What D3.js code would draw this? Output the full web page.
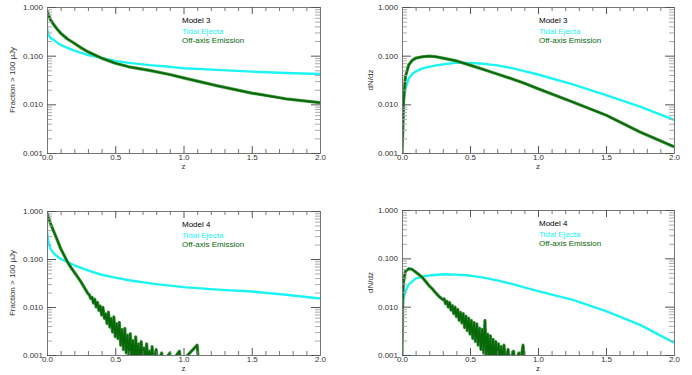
<!DOCTYPE html>
<html>
<head>
<meta charset="utf-8">
<script src="https://cdn.jsdelivr.net/npm/d3@7"></script>
<style>
  body { margin: 0; background: #fff; }
  text { font-family: "Liberation Sans", Arial, sans-serif; }
</style>
</head>
<body>
<div class="chart"></div>
<script>
// panel A: Model 3, fraction above 100 uJy
var zA = [0, 0.01, 0.025, 0.05, 0.075, 0.1, 0.15, 0.2, 0.25, 0.3, 0.4, 0.5, 0.6, 0.75, 0.9, 1.0, 1.25, 1.5, 1.75, 2.0];
var tidalA = [0.37, 0.27, 0.23, 0.21, 0.185, 0.166, 0.145, 0.127, 0.114, 0.103, 0.09, 0.078, 0.071, 0.064, 0.059, 0.055, 0.051, 0.047, 0.044, 0.042];
var offA = [0.85, 0.7, 0.55, 0.43, 0.35, 0.29, 0.22, 0.18, 0.145, 0.12, 0.089, 0.07, 0.059, 0.05, 0.041, 0.035, 0.024, 0.017, 0.013, 0.0108];

// panel B: Model 3, dN/dz
var zB = [0, 0.005, 0.012, 0.025, 0.05, 0.075, 0.1, 0.15, 0.2, 0.25, 0.3, 0.4, 0.5, 0.6, 0.7, 0.8, 0.9, 1.0, 1.25, 1.5, 1.75, 2.0];
var tidalB = [0.001, 0.0035, 0.012, 0.021, 0.034, 0.042, 0.047, 0.055, 0.059, 0.063, 0.066, 0.072, 0.071, 0.068, 0.063, 0.056, 0.048, 0.041, 0.026, 0.0155, 0.009, 0.0048];
var offB = [0.001, 0.0025, 0.012, 0.037, 0.065, 0.080, 0.089, 0.095, 0.098, 0.095, 0.089, 0.078, 0.064, 0.052, 0.042, 0.034, 0.027, 0.021, 0.0113, 0.006, 0.0027, 0.00135];

// panel C: Model 4, fraction above 100 uJy
var zTidalC = [0, 0.01, 0.025, 0.05, 0.1, 0.15, 0.2, 0.3, 0.4, 0.5, 0.6, 0.8, 1.0, 1.25, 1.5, 1.75, 2.0];
var tidalC = [0.37, 0.23, 0.165, 0.13, 0.10, 0.087, 0.074, 0.058, 0.047, 0.041, 0.036, 0.030, 0.026, 0.023, 0.021, 0.018, 0.015];
var zOffC = [0, 0.01, 0.025, 0.05, 0.075, 0.1, 0.125, 0.15, 0.175, 0.2, 0.225, 0.25, 0.275, 0.3,
  0.31, 0.32, 0.33, 0.34, 0.35, 0.36, 0.37, 0.38, 0.39, 0.40, 0.41, 0.42, 0.43, 0.44, 0.45, 0.46, 0.47, 0.48, 0.49, 0.50,
  0.51, 0.52, 0.53, 0.54, 0.55, 0.56, 0.57, 0.58, 0.59, 0.60, 0.61, 0.62, 0.63, 0.64, 0.65, 0.66, 0.67, 0.68, 0.69, 0.70,
  0.71, 0.72, 0.73, 0.74, 0.75, 0.76, 0.77, 0.78, 0.80, 0.81, 0.84, 0.85, 0.90, 0.91, 0.97, 0.98, 1.10, 1.11];
var offC = [0.92, 0.75, 0.55, 0.37, 0.25, 0.165, 0.12, 0.087, 0.067, 0.053, 0.042, 0.033, 0.025, 0.019,
  0.018, 0.015, 0.016, 0.012, 0.0145, 0.010, 0.0125, 0.0085, 0.0105, 0.0068, 0.0098, 0.0058, 0.0072, 0.0045, 0.0078, 0.0038, 0.0058, 0.003, 0.0062, 0.0024,
  0.0045, 0.0022, 0.0048, 0.0016, 0.0034, 0.0013, 0.0036, 0.0011, 0.0026, 0.0009, 0.0028, 0.0008, 0.002, 0.0007, 0.0024, 0.0006, 0.0017, 0.0006, 0.0019, 0.0005,
  0.0014, 0.0005, 0.0017, 0.0005, 0.0012, 0.0005, 0.0015, 0.0005, 0.0013, 0.0005, 0.0011, 0.0005, 0.0011, 0.0005, 0.0012, 0.0005, 0.0016, 0.0005];

// panel D: Model 4, dN/dz
var zTidalD = [0, 0.005, 0.01, 0.025, 0.05, 0.1, 0.15, 0.2, 0.3, 0.4, 0.5, 0.6, 0.7, 0.8, 0.9, 1.0, 1.25, 1.5, 1.75, 2.0];
var tidalD = [0.001, 0.009, 0.014, 0.021, 0.029, 0.038, 0.042, 0.044, 0.047, 0.046, 0.044, 0.040, 0.035, 0.030, 0.025, 0.021, 0.014, 0.0081, 0.0042, 0.0018];
var zOffD = [0, 0.005, 0.01, 0.025, 0.05, 0.075, 0.1, 0.125, 0.15, 0.175, 0.2, 0.225, 0.25, 0.275, 0.3,
  0.31, 0.32, 0.33, 0.34, 0.35, 0.36, 0.37, 0.38, 0.39, 0.40, 0.41, 0.42, 0.43, 0.44, 0.45, 0.46, 0.47, 0.48, 0.49, 0.50,
  0.51, 0.52, 0.53, 0.54, 0.55, 0.56, 0.57, 0.58, 0.59, 0.60, 0.61, 0.62, 0.63, 0.64, 0.65, 0.66, 0.67, 0.68, 0.69, 0.70,
  0.71, 0.72, 0.73, 0.74, 0.75, 0.76, 0.78, 0.79, 0.82, 0.83, 0.86, 0.87, 0.89, 0.90];
var offD = [0.001, 0.014, 0.031, 0.054, 0.061, 0.059, 0.052, 0.046, 0.040, 0.033, 0.027, 0.023, 0.019, 0.016, 0.014,
  0.0145, 0.0115, 0.013, 0.0098, 0.0122, 0.0085, 0.0105, 0.0072, 0.0098, 0.0062, 0.0088, 0.0052, 0.0076, 0.0046, 0.0072, 0.0037, 0.0064, 0.0032, 0.0058, 0.0027,
  0.0052, 0.0022, 0.0047, 0.0019, 0.0044, 0.0016, 0.0036, 0.0013, 0.0034, 0.0011, 0.0052, 0.0009, 0.0027, 0.0008, 0.0025, 0.0007, 0.0021, 0.0006, 0.0019, 0.0006,
  0.0017, 0.0005, 0.0015, 0.0005, 0.0016, 0.0005, 0.0013, 0.0005, 0.0012, 0.0005, 0.0011, 0.0005, 0.0016, 0.0005];

var legendNames = ["Tidal Ejecta", "Off-axis Emission"];
var xMajor = [0, 0.5, 1.0, 1.5, 2.0];
var xMinor = [0.1, 0.2, 0.3, 0.4, 0.6, 0.7, 0.8, 0.9, 1.1, 1.2, 1.3, 1.4, 1.6, 1.7, 1.8, 1.9];
var yMajor = [0.001, 0.01, 0.1, 1];

var width = 692, height = 375;
var cyan = "#1cf4f4", green = "#076807", greenLight = "#4f9c4f";

var svg = d3.select(".chart").append("svg")
  .attr("width", width)
  .attr("height", height);

var yMinor = [];
[0.001, 0.01, 0.1].forEach(function(d) {
  for (var k = 2; k <= 9; k++) yMinor.push(d * k);
});

var panels = [
  {id: "a", left: 47, right: 320, top: 7, bottom: 153, model: "Model 3", ytitle: "Fraction > 100 \u03bcJy", tx: 12, lx: 182,
   series: [{z: zA, v: tidalA, c: cyan}, {z: zA, v: offA, c: green}]},
  {id: "b", left: 402, right: 674, top: 7, bottom: 153, model: "Model 3", ytitle: "dN/dz", tx: 370, lx: 539,
   series: [{z: zB, v: tidalB, c: cyan}, {z: zB, v: offB, c: green}]},
  {id: "c", left: 47, right: 320, top: 211, bottom: 355, model: "Model 4", ytitle: "Fraction > 100 \u03bcJy", tx: 12, lx: 182,
   series: [{z: zTidalC, v: tidalC, c: cyan}, {z: zOffC, v: offC, c: green}]},
  {id: "d", left: 402, right: 674, top: 210, bottom: 355, model: "Model 4", ytitle: "dN/dz", tx: 370, lx: 539,
   series: [{z: zTidalD, v: tidalD, c: cyan}, {z: zOffD, v: offD, c: green}]}
];

panels.forEach(drawPanel);

function drawPanel(p) {
  var x = d3.scaleLinear().domain([0, 2]).range([p.left, p.right]);
  var y = d3.scaleLog().domain([0.001, 1]).range([p.bottom, p.top]);
  var g = svg.append("g");

  svg.append("clipPath").attr("id", "clip-" + p.id)
    .append("rect")
      .attr("x", p.left).attr("y", p.top)
      .attr("width", p.right - p.left).attr("height", p.bottom - p.top);

  // curves
  var line = d3.line()
    .x(function(d) { return x(d[0]); })
    .y(function(d) { return y(Math.max(d[1], 0.0007)); });

  p.series.forEach(function(s) {
    var pts = s.z.map(function(z, i) { return [z, s.v[i]]; });
    if (s.c == green) {
      // lighter halo for the noisy green band
      g.append("path")
        .datum(pts)
        .attr("clip-path", "url(#clip-" + p.id + ")")
        .attr("fill", "none")
        .attr("stroke", greenLight)
        .attr("stroke-width", 3.2)
        .attr("stroke-linejoin", "round")
        .attr("d", line);
    }
    g.append("path")
      .datum(pts)
      .attr("clip-path", "url(#clip-" + p.id + ")")
      .attr("fill", "none")
      .attr("stroke", s.c)
      .attr("stroke-width", s.c == green ? 1.8 : 2.4)
      .attr("stroke-linejoin", "round")
      .attr("d", line);
  });

  // axes (ticks point inwards, box on all sides)
  function styleAxis(sel, col) {
    sel.select(".domain").attr("stroke", "#777");
    sel.selectAll(".tick line").attr("stroke", col);
    sel.selectAll("text")
      .attr("font-size", 8)
      .attr("fill", "#333")
      .style("font-family", "'Liberation Sans', Arial, sans-serif");
  }

  g.append("g").attr("transform", "translate(0," + p.bottom + ")")
    .call(d3.axisBottom(x).tickValues(xMinor).tickSize(-4).tickFormat("").tickSizeOuter(0))
    .call(styleAxis, "#777");
  g.append("g").attr("transform", "translate(0," + p.bottom + ")")
    .call(d3.axisBottom(x).tickValues(xMajor).tickSize(-7).tickPadding(1).tickFormat(d3.format(".1f")).tickSizeOuter(0))
    .call(styleAxis, "#555");
  g.append("g").attr("transform", "translate(0," + p.top + ")")
    .call(d3.axisTop(x).tickValues(xMinor).tickSize(-4).tickFormat("").tickSizeOuter(0))
    .call(styleAxis, "#777");
  g.append("g").attr("transform", "translate(0," + p.top + ")")
    .call(d3.axisTop(x).tickValues(xMajor).tickSize(-7).tickFormat("").tickSizeOuter(0))
    .call(styleAxis, "#555");

  g.append("g").attr("transform", "translate(" + p.left + ",0)")
    .call(d3.axisLeft(y).tickValues(yMinor).tickSize(-5).tickFormat("").tickSizeOuter(0))
    .call(styleAxis, "#aaa");
  g.append("g").attr("transform", "translate(" + p.left + ",0)")
    .call(d3.axisLeft(y).tickValues(yMajor).tickSize(-9).tickPadding(4).tickFormat(d3.format(".3f")).tickSizeOuter(0))
    .call(styleAxis, "#555");
  g.append("g").attr("transform", "translate(" + p.right + ",0)")
    .call(d3.axisRight(y).tickValues(yMinor).tickSize(-5).tickFormat("").tickSizeOuter(0))
    .call(styleAxis, "#aaa");
  g.append("g").attr("transform", "translate(" + p.right + ",0)")
    .call(d3.axisRight(y).tickValues(yMajor).tickSize(-9).tickFormat("").tickSizeOuter(0))
    .call(styleAxis, "#555");

  // axis titles
  g.append("text")
    .attr("x", (p.left + p.right) / 2)
    .attr("y", p.bottom + 16)
    .attr("text-anchor", "middle")
    .attr("font-size", 8)
    .attr("fill", "#333")
    .text("z");
  g.append("text")
    .attr("transform", "translate(" + p.tx + "," + ((p.top + p.bottom) / 2) + ") rotate(-90)")
    .attr("text-anchor", "middle")
    .attr("dy", "0.35em")
    .attr("font-size", 8)
    .attr("fill", "#333")
    .text(p.ytitle);

  // legend
  var leg = g.append("g").attr("transform", "translate(" + p.lx + "," + (p.top + 16) + ")");
  leg.append("text").attr("y", 0).attr("font-size", 8).attr("fill", "#000").text(p.model);
  legendNames.forEach(function(name, i) {
    leg.append("text")
      .attr("y", 11 + i * 9)
      .attr("font-size", 8)
      .attr("fill", p.series[i].c)
      .text(name);
  });
}
</script>
</body>
</html>
